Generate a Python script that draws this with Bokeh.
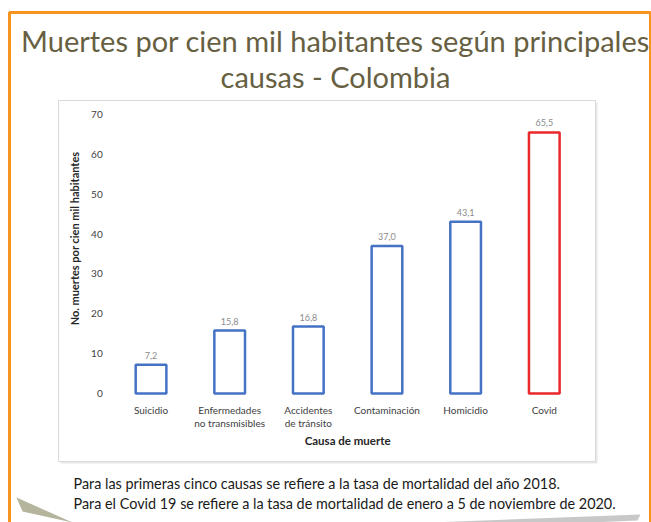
import math
from bokeh.plotting import figure
from bokeh.models import Range1d, ColumnDataSource, LabelSet
from bokeh.core.properties import value
from bokeh.embed import file_html
from bokeh.resources import INLINE

# ---- data ----
categories = ["Suicidio", "Enfermedades\nno transmisibles", "Accidentes\nde tránsito",
              "Contaminación", "Homicidio", "Covid"]
values = [7.2, 15.8, 16.8, 37.0, 43.1, 65.5]
bar_colors = ["#4472C4", "#4472C4", "#4472C4", "#4472C4", "#4472C4", "#E8282B"]
y_ticks = [0, 10, 20, 30, 40, 50, 60, 70]
title_lines = ["Muertes por cien mil habitantes según principales", "causas - Colombia"]
notes = ["Para las primeras cinco causas se refiere a la tasa de mortalidad del año 2018.",
         "Para el Covid 19 se refiere a la tasa de mortalidad de enero a 5 de noviembre de 2020."]
x_title = "Causa de muerte"
y_title = "No. muertes por cien mil habitantes"

# ---- layout (pixels on the 651x522 canvas) ----
W, H = 651, 522
PL, PR, PT, PB = 111.2, 583.1, 114.0, 393.0   # plot area
YMAX = 70.0
n = len(categories)
cat_w = (PR - PL) / n
px_per_unit = (PB - PT) / YMAX

FONT = value("Lato")

p = figure(width=W, height=H, output_backend="svg", toolbar_location=None,
           x_range=Range1d(0, W), y_range=Range1d(H, 0),
           x_axis_location=None, y_axis_location=None, min_border=0)
p.extra_x_ranges = {"cat": Range1d(-0.5 - PL / cat_w, -0.5 + (W - PL) / cat_w)}
p.extra_y_ranges = {"val": Range1d(-(H - PB) / px_per_unit, PB / px_per_unit)}
p.background_fill_color = "white"
p.border_fill_color = "white"
p.outline_line_color = None
p.grid.visible = False

# ---- decorations ----
p.patch([16, 72, 22], [497, 522, 511], fill_color="#b5b49c", line_color=None)
p.patch([430, 640, 637, 590], [522, 514, 520, 522], fill_color="#c8c8c8", line_color=None)
p.quad(left=[9], right=[650], top=[12], bottom=[530], fill_color=None,
       line_color="#F7941D", line_width=3)
p.quad(left=[60], right=[597], top=[102], bottom=[463], fill_color="#e8e8e8", line_color=None)
p.quad(left=[58], right=[595], top=[100], bottom=[461], fill_color="white",
       line_color="#d9d9d9", line_width=1)

# ---- bars ----
idx = list(range(n))
labels = [f"{v:.1f}".replace(".", ",") for v in values]
src = ColumnDataSource(dict(i=idx, cat=categories, val=values, col=bar_colors, lab=labels))
p.vbar(x="i", top="val", bottom=0, width=0.39, source=src, fill_color="white",
       line_color="col", line_width=2.5, x_range_name="cat", y_range_name="val")
p.add_layout(LabelSet(x="i", y="val", text="lab", source=src, text_align="center",
                      text_baseline="bottom", y_offset=6, text_font=FONT, text_font_size="9px",
                      text_color="#8a8a8a", x_range_name="cat", y_range_name="val"))

# ---- y axis ----
p.text(x=[PL - 9] * len(y_ticks), y=y_ticks, text=[str(t) for t in y_ticks],
       text_align="right", text_baseline="middle", text_font=FONT, text_font_size="10px",
       text_color="#404040", y_range_name="val")
p.text(x=[74], y=[238], text=[y_title], angle=math.pi / 2, text_align="center",
       text_baseline="middle", text_font=FONT, text_font_size="11px", text_font_style="bold",
       text_color="#262626")

# ---- x axis ----
p.text(x=idx, y=[PB + 10] * n, text=categories, text_align="center", text_baseline="top",
       text_line_height=1.1, text_font=FONT, text_font_size="10px", text_color="#404040",
       x_range_name="cat")
p.text(x=[(PL + PR) / 2], y=[440], text=[x_title], text_align="center", text_baseline="middle",
       text_font=FONT, text_font_size="11.5px", text_font_style="bold", text_color="#262626")

# ---- title ----
p.text(x=[335, 335], y=[40, 76], text=title_lines, text_align="center",
       text_baseline="alphabetic", text_font=FONT, text_font_size="29px", text_color="#675F42")

# ---- notes ----
p.text(x=[73, 73], y=[483, 503], text=notes, text_align="left", text_baseline="middle",
       text_font=FONT, text_font_size="14.4px", text_color="#1a1a1a")

open("out.html", "w").write(file_html(p, INLINE))
